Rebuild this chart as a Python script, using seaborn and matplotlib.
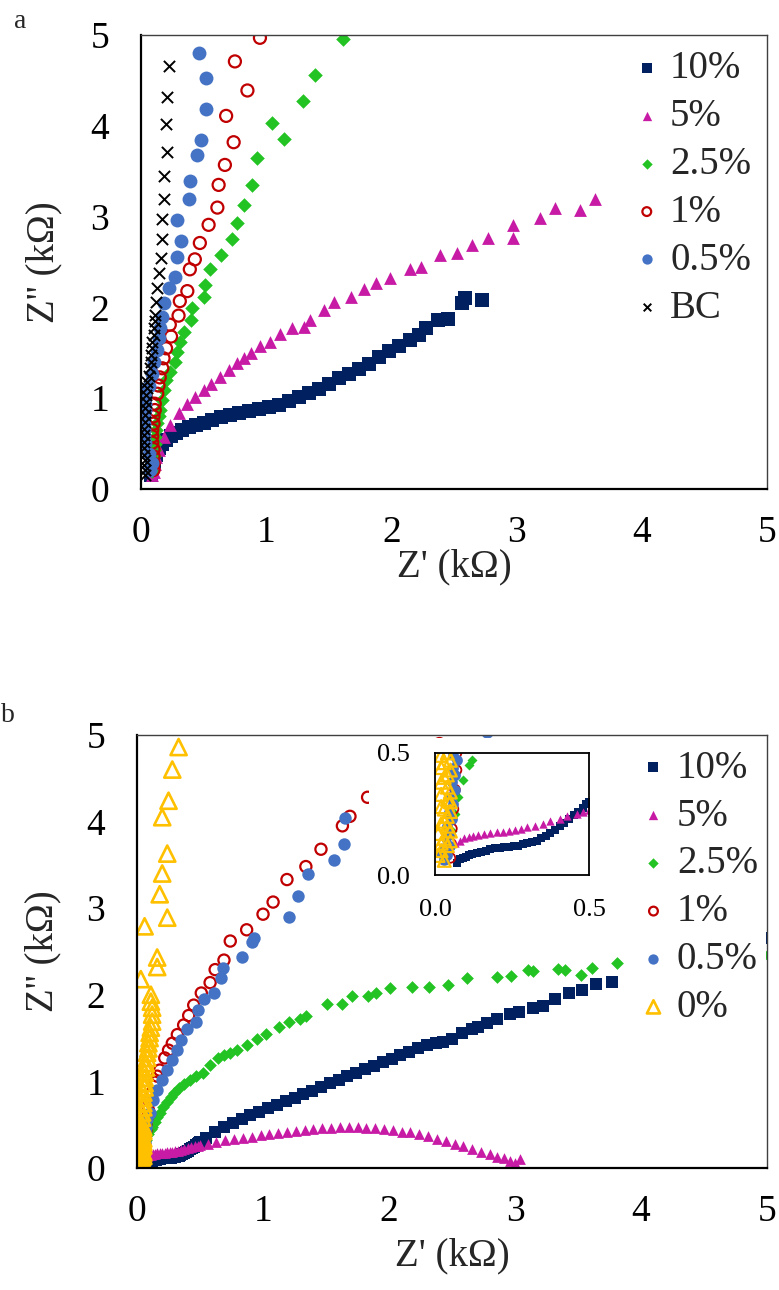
import matplotlib
matplotlib.use('Agg')
import matplotlib.pyplot as plt
import matplotlib.ticker as mticker
from matplotlib.patches import Rectangle
import seaborn as sns

# ---------------- data, panel a (Z' , Z'' in kOhm) ----------------
a_labels = ['10%', '5%', '2.5%', '1%', '0.5%', 'BC']

a_10 = [(0.08, 0.15), (0.09, 0.22), (0.10, 0.30), (0.12, 0.38), (0.14, 0.45), (0.17, 0.50),
        (0.20, 0.54), (0.24, 0.58), (0.28, 0.62), (0.33, 0.65), (0.38, 0.68), (0.44, 0.71),
        (0.50, 0.73), (0.57, 0.76), (0.64, 0.79), (0.71, 0.82), (0.78, 0.84), (0.86, 0.86),
        (0.94, 0.88), (1.02, 0.90), (1.10, 0.93), (1.18, 0.97), (1.26, 1.01), (1.34, 1.06),
        (1.42, 1.10), (1.50, 1.16), (1.58, 1.22), (1.66, 1.27), (1.74, 1.32), (1.82, 1.38),
        (1.90, 1.45), (1.98, 1.52), (2.06, 1.58), (2.15, 1.64), (2.22, 1.70), (2.28, 1.77),
        (2.37, 1.86), (2.45, 1.87), (2.56, 2.05), (2.59, 2.10), (2.72, 2.08)]

a_5 = [(0.09, 0.15), (0.10, 0.19), (0.11, 0.28), (0.12, 0.35), (0.14, 0.43), (0.18, 0.57),
       (0.23, 0.71), (0.30, 0.84), (0.37, 0.94), (0.43, 1.01), (0.50, 1.09), (0.56, 1.16),
       (0.63, 1.23), (0.70, 1.31), (0.77, 1.39), (0.82, 1.44), (0.88, 1.50), (0.95, 1.57),
       (1.03, 1.62), (1.11, 1.71), (1.21, 1.77), (1.30, 1.78), (1.35, 1.86), (1.46, 1.97),
       (1.54, 2.06), (1.68, 2.12), (1.78, 2.20), (1.88, 2.27), (1.99, 2.32), (2.15, 2.42),
       (2.24, 2.45), (2.39, 2.58), (2.52, 2.60), (2.64, 2.69), (2.77, 2.76), (2.97, 2.91),
       (2.97, 2.76), (3.19, 2.98), (3.31, 3.09), (3.51, 3.07), (3.63, 3.19)]

a_25 = [(0.09, 0.20), (0.09, 0.29), (0.10, 0.36), (0.10, 0.43), (0.11, 0.50), (0.11, 0.57),
        (0.12, 0.65), (0.13, 0.73), (0.14, 0.80), (0.15, 0.87), (0.17, 0.98), (0.18, 1.09),
        (0.20, 1.20), (0.23, 1.29), (0.27, 1.40), (0.29, 1.51), (0.31, 1.62), (0.34, 1.73),
        (0.40, 1.86), (0.41, 1.99), (0.50, 2.12), (0.51, 2.25), (0.55, 2.42), (0.64, 2.58),
        (0.73, 2.75), (0.77, 2.93), (0.82, 3.13), (0.89, 3.35), (0.93, 3.65), (1.14, 3.85),
        (1.05, 4.03), (1.29, 4.27), (1.39, 4.56), (1.61, 4.96)]

a_1 = [(0.10, 0.21), (0.10, 0.28), (0.10, 0.36), (0.10, 0.44), (0.09, 0.51), (0.09, 0.58),
       (0.09, 0.65), (0.10, 0.72), (0.10, 0.80), (0.11, 0.87), (0.11, 0.94), (0.13, 1.05),
       (0.14, 1.14), (0.15, 1.23), (0.17, 1.33), (0.18, 1.44), (0.20, 1.55), (0.24, 1.68),
       (0.23, 1.81), (0.30, 1.91), (0.31, 2.07), (0.37, 2.18), (0.39, 2.42), (0.43, 2.53),
       (0.47, 2.71), (0.54, 2.91), (0.61, 3.10), (0.62, 3.35), (0.67, 3.57), (0.74, 3.82),
       (0.68, 4.11), (0.85, 4.39), (0.75, 4.71), (0.95, 4.97)]

a_05 = [(0.07, 0.21), (0.09, 0.29), (0.06, 0.39), (0.03, 0.51), (0.02, 0.58), (0.02, 0.65),
        (0.02, 0.72), (0.02, 0.80), (0.03, 0.87), (0.03, 0.94), (0.03, 1.02), (0.03, 1.09),
        (0.06, 1.14), (0.09, 1.27), (0.10, 1.40), (0.13, 1.53), (0.14, 1.66), (0.15, 1.77),
        (0.17, 1.90), (0.18, 2.05), (0.22, 2.21), (0.27, 2.33), (0.29, 2.56), (0.32, 2.73),
        (0.29, 2.96), (0.38, 3.20), (0.39, 3.39), (0.45, 3.68), (0.48, 3.84), (0.52, 4.19),
        (0.52, 4.53), (0.46, 4.80)]

a_bc = [(0.03, 0.15), (0.03, 0.21), (0.02, 0.26), (0.03, 0.32), (0.02, 0.38), (0.02, 0.45),
        (0.02, 0.52), (0.02, 0.59), (0.02, 0.66), (0.03, 0.74), (0.03, 0.81), (0.03, 0.89),
        (0.04, 0.96), (0.04, 1.04), (0.05, 1.11), (0.05, 1.18), (0.06, 1.25), (0.07, 1.33),
        (0.08, 1.40), (0.08, 1.48), (0.09, 1.55), (0.09, 1.62), (0.10, 1.70), (0.10, 1.77),
        (0.11, 1.85), (0.11, 1.92), (0.12, 2.06), (0.13, 2.21), (0.14, 2.38), (0.16, 2.54),
        (0.17, 2.75), (0.17, 2.97), (0.18, 3.20), (0.18, 3.45), (0.21, 3.71), (0.20, 4.02),
        (0.21, 4.32), (0.22, 4.66)]

# ---------------- data, panel b ----------------
b_labels = ['10%', '5%', '2.5%', '1%', '0.5%', '0%']

b_10 = [(0.07, 0.05), (0.08, 0.065), (0.09, 0.07), (0.10, 0.075), (0.11, 0.08), (0.12, 0.085),
        (0.135, 0.09), (0.15, 0.095), (0.165, 0.10), (0.18, 0.105), (0.195, 0.11), (0.21, 0.112),
        (0.225, 0.113), (0.24, 0.115), (0.255, 0.117), (0.27, 0.12), (0.285, 0.125), (0.30, 0.13),
        (0.315, 0.135), (0.33, 0.14), (0.345, 0.15), (0.36, 0.16), (0.375, 0.172), (0.39, 0.185),
        (0.405, 0.20), (0.42, 0.215), (0.435, 0.23), (0.45, 0.245), (0.465, 0.26), (0.48, 0.275),
        (0.49, 0.29), (0.50, 0.30), (0.55, 0.35), (0.62, 0.41), (0.69, 0.47), (0.76, 0.52),
        (0.83, 0.57), (0.90, 0.61), (0.97, 0.65), (1.04, 0.69), (1.11, 0.73), (1.18, 0.77),
        (1.25, 0.81), (1.32, 0.85), (1.39, 0.89), (1.46, 0.94), (1.53, 0.98), (1.60, 1.02),
        (1.67, 1.06), (1.74, 1.10), (1.81, 1.14), (1.88, 1.18), (1.95, 1.22), (2.02, 1.26),
        (2.09, 1.30), (2.16, 1.34), (2.23, 1.38), (2.30, 1.42), (2.37, 1.44), (2.43, 1.45),
        (2.50, 1.49), (2.58, 1.56), (2.66, 1.61), (2.71, 1.63), (2.78, 1.67), (2.86, 1.72),
        (2.96, 1.78), (3.03, 1.80), (3.14, 1.85), (3.22, 1.87), (3.32, 1.95), (3.43, 2.02),
        (3.53, 2.06), (3.64, 2.12), (3.77, 2.15), (4.10, 2.30), (4.35, 2.40), (4.60, 2.50),
        (4.80, 2.58), (4.98, 2.66)]

b_5 = [(0.03, 0.06), (0.04, 0.085), (0.05, 0.11), (0.065, 0.13), (0.08, 0.14), (0.095, 0.15),
       (0.11, 0.155), (0.125, 0.16), (0.14, 0.165), (0.16, 0.17), (0.18, 0.173), (0.20, 0.176),
       (0.22, 0.178), (0.24, 0.18), (0.26, 0.185), (0.28, 0.19), (0.30, 0.195), (0.325, 0.20),
       (0.35, 0.21), (0.375, 0.22), (0.405, 0.23), (0.43, 0.24), (0.46, 0.25), (0.48, 0.258),
       (0.50, 0.265), (0.56, 0.28), (0.63, 0.30), (0.70, 0.32), (0.77, 0.33), (0.84, 0.35),
       (0.91, 0.36), (0.98, 0.38), (1.05, 0.39), (1.12, 0.40), (1.19, 0.42), (1.26, 0.43),
       (1.33, 0.44), (1.40, 0.45), (1.47, 0.46), (1.54, 0.46), (1.61, 0.47), (1.68, 0.47),
       (1.75, 0.47), (1.82, 0.46), (1.89, 0.46), (1.96, 0.45), (2.03, 0.44), (2.10, 0.42),
       (2.17, 0.41), (2.24, 0.39), (2.31, 0.37), (2.38, 0.34), (2.45, 0.31), (2.52, 0.28),
       (2.59, 0.25), (2.66, 0.22), (2.73, 0.19), (2.80, 0.16), (2.86, 0.13), (2.91, 0.11),
       (2.96, 0.08), (3.00, 0.06), (3.04, 0.10)]

b_25 = [(0.03, 0.07), (0.045, 0.12), (0.055, 0.18), (0.065, 0.25), (0.075, 0.32), (0.09, 0.39),
        (0.11, 0.45), (0.12, 0.47), (0.14, 0.53), (0.16, 0.59), (0.18, 0.64), (0.21, 0.70),
        (0.24, 0.76), (0.27, 0.82), (0.29, 0.87), (0.33, 0.92), (0.37, 0.97), (0.42, 1.02),
        (0.47, 1.06), (0.52, 1.10), (0.58, 1.19), (0.64, 1.27), (0.69, 1.30), (0.74, 1.33),
        (0.79, 1.36), (0.87, 1.42), (0.95, 1.49), (1.02, 1.55), (1.13, 1.63), (1.21, 1.69),
        (1.29, 1.72), (1.34, 1.75), (1.51, 1.89), (1.63, 1.89), (1.71, 1.98), (1.83, 1.98),
        (1.90, 2.02), (2.01, 2.08), (2.18, 2.09), (2.32, 2.09), (2.47, 2.11), (2.62, 2.19),
        (2.86, 2.21), (2.97, 2.22), (3.10, 2.29), (3.14, 2.27), (3.34, 2.30), (3.40, 2.28),
        (3.52, 2.23), (3.61, 2.31), (3.81, 2.37), (4.10, 2.39), (4.35, 2.41), (4.60, 2.43),
        (4.80, 2.45), (4.98, 2.46)]

b_1 = [(0.05, 0.07), (0.05, 0.13), (0.055, 0.19), (0.06, 0.27), (0.065, 0.35), (0.07, 0.43),
       (0.07, 0.50), (0.08, 0.58), (0.09, 0.67), (0.10, 0.77), (0.12, 0.87), (0.14, 0.99),
       (0.16, 1.06), (0.18, 1.13), (0.22, 1.27), (0.25, 1.36), (0.28, 1.44), (0.32, 1.54),
       (0.37, 1.65), (0.41, 1.76), (0.45, 1.88), (0.51, 2.02), (0.58, 2.14), (0.62, 2.29),
       (0.69, 2.40), (0.74, 2.62), (0.87, 2.75), (1.00, 2.93), (1.08, 3.07), (1.19, 3.33),
       (1.34, 3.48), (1.46, 3.68), (1.63, 3.95), (1.69, 4.06), (1.83, 4.28), (2.00, 4.45),
       (2.20, 4.70), (2.40, 4.90)]

b_05 = [(0.03, 0.06), (0.04, 0.08), (0.02, 0.09), (0.03, 0.11), (0.05, 0.12), (0.035, 0.15),
        (0.05, 0.17), (0.04, 0.20), (0.055, 0.23), (0.045, 0.26), (0.06, 0.29), (0.05, 0.32),
        (0.065, 0.35), (0.055, 0.38), (0.065, 0.41), (0.06, 0.44), (0.07, 0.47), (0.06, 0.49),
        (0.08, 0.56), (0.10, 0.63), (0.13, 0.79), (0.16, 0.90), (0.20, 1.02), (0.24, 1.13),
        (0.28, 1.25), (0.32, 1.36), (0.35, 1.48), (0.40, 1.60), (0.47, 1.68), (0.48, 1.82),
        (0.53, 1.95), (0.61, 2.02), (0.67, 2.19), (0.68, 2.31), (0.83, 2.44), (0.91, 2.61),
        (0.93, 2.66), (1.21, 2.90), (1.28, 3.14), (1.36, 3.39), (1.56, 3.55), (1.64, 3.74),
        (1.65, 4.04), (1.90, 4.25), (2.15, 4.50), (2.45, 4.75), (2.78, 5.03)]

b_0 = [(0.03, 0.06), (0.01, 0.08), (0.02, 0.10), (0.04, 0.12), (0.02, 0.13), (0.05, 0.14),
       (0.03, 0.15), (0.01, 0.17), (0.05, 0.18), (0.04, 0.20), (0.02, 0.21), (0.03, 0.22),
       (0.04, 0.24), (0.05, 0.26), (0.03, 0.27), (0.02, 0.28), (0.05, 0.30), (0.04, 0.31),
       (0.02, 0.33), (0.05, 0.34), (0.04, 0.36), (0.02, 0.38), (0.03, 0.40), (0.04, 0.41),
       (0.05, 0.43), (0.02, 0.44), (0.03, 0.46), (0.05, 0.47), (0.02, 0.49), (0.04, 0.50),
       (0.04, 0.58), (0.04, 0.64), (0.05, 0.70), (0.05, 0.75), (0.05, 0.81), (0.05, 0.87),
       (0.06, 0.93), (0.06, 0.98), (0.06, 1.04), (0.06, 1.10), (0.07, 1.16), (0.07, 1.21),
       (0.08, 1.27), (0.08, 1.33), (0.09, 1.38), (0.09, 1.44), (0.10, 1.50), (0.10, 1.56),
       (0.11, 1.62), (0.12, 1.69), (0.12, 1.77), (0.12, 1.85), (0.11, 1.92), (0.11, 2.00),
       (0.03, 2.18), (0.16, 2.32), (0.16, 2.43), (0.06, 2.79), (0.24, 2.89), (0.18, 3.16),
       (0.20, 3.40), (0.24, 3.63), (0.20, 4.05), (0.25, 4.24), (0.28, 4.60), (0.33, 4.86)]

axis_ticks = [0, 1, 2, 3, 4, 5]
inset_ticks = [0.0, 0.5]

# marker, colour, hollow
styles = {
    '10%': ('s', '#002060', False),
    '5%': ('^', '#C71BA6', False),
    '2.5%': ('D', '#22C322', False),
    '1%': ('o', '#C00000', True),
    '0.5%': ('o', '#4472C4', False),
    'BC': ('x', 'black', False),
    '0%': ('^', '#FFC000', True),
}

sns.set_style('white')
plt.rcParams['font.family'] = ['Liberation Serif', 'DejaVu Serif']


def pts(ax, data, key, s, lw=1.4, label=None):
    marker, color, hollow = styles[key]
    x = [p[0] for p in data]
    y = [p[1] for p in data]
    kw = dict(x=x, y=y, ax=ax, marker=marker, s=s, legend=False, label=label)
    if hollow:
        sns.scatterplot(**kw, facecolor='none', edgecolor=color, linewidth=lw)
    elif marker == 'x':
        sns.scatterplot(**kw, color=color, linewidth=lw)
    else:
        sns.scatterplot(**kw, color=color, linewidth=0)


def frame(ax):
    for side in ['left', 'bottom']:
        ax.spines[side].set_color('black')
        ax.spines[side].set_linewidth(1.6)
    for side in ['top', 'right']:
        ax.spines[side].set_color('#404040')
        ax.spines[side].set_linewidth(1.0)
    ax.set_xlim(0, 5)
    ax.set_ylim(0, 5)
    ax.set_xticks(axis_ticks)
    ax.set_yticks(axis_ticks)
    ax.tick_params(axis='both', direction='out', length=7, width=1.3,
                   labelsize=27, colors='black')
    ax.tick_params(axis='x', pad=12)
    ax.tick_params(axis='y', pad=16)


def legend(ax, anchor, sizes):
    leg = ax.legend(loc='upper left', bbox_to_anchor=anchor, borderaxespad=0,
                    frameon=True, facecolor='white', edgecolor='none', framealpha=1,
                    fancybox=False, fontsize=28, handlelength=0.5, handletextpad=0.35,
                    labelspacing=0.28, borderpad=0.2)
    for h, t in zip(leg.legend_handles, leg.get_texts()):
        h.set_sizes([sizes[t.get_text()]])
    return leg


fig = plt.figure(figsize=(7.79, 12.9), dpi=100)

# ---------------- panel a ----------------
ax_a = fig.add_axes([0.1810, 0.6209, 0.8036, 0.3519])
pts(ax_a, a_10, '10%', 100, label='10%')
pts(ax_a, a_5, '5%', 85, label='5%')
pts(ax_a, a_25, '2.5%', 55, label='2.5%')
pts(ax_a, a_1, '1%', 75, lw=1.6, label='1%')
pts(ax_a, a_05, '0.5%', 100, label='0.5%')
pts(ax_a, a_bc, 'BC', 65, lw=1.4, label='BC')
frame(ax_a)
ax_a.set_xlabel("Z' (kΩ)", fontsize=28)
ax_a.set_ylabel("Z'' (kΩ)", fontsize=28)
ax_a.xaxis.set_label_coords(0.5, -0.13)
ax_a.yaxis.set_label_coords(-0.125, 0.5)
legend(ax_a, (0.78, 0.984),
       {'10%': 50, '5%': 45, '2.5%': 28, '1%': 40, '0.5%': 55, 'BC': 30})

# ---------------- panel b ----------------
ax_b = fig.add_axes([0.1759, 0.0946, 0.8087, 0.3357])
pts(ax_b, b_10, '10%', 70, label='10%')
pts(ax_b, b_5, '5%', 60, label='5%')
pts(ax_b, b_25, '2.5%', 42, label='2.5%')
pts(ax_b, b_1, '1%', 65, lw=1.6, label='1%')
pts(ax_b, b_05, '0.5%', 80, label='0.5%')
pts(ax_b, b_0, '0%', 135, lw=1.9, label='0%')
frame(ax_b)
ax_b.set_xlabel("Z' (kΩ)", fontsize=28)
ax_b.set_ylabel("Z'' (kΩ)", fontsize=28)
ax_b.xaxis.set_label_coords(0.5, -0.16)
ax_b.yaxis.set_label_coords(-0.12, 0.5)
legend(ax_b, (0.792, 0.984),
       {'10%': 50, '5%': 45, '2.5%': 28, '1%': 40, '0.5%': 55, '0%': 90})

# white chart area of the inset (hides the main points behind it)
fig.add_artist(Rectangle((369 / 779, 1 - 930 / 1290), 231 / 779, 192 / 1290,
                         transform=fig.transFigure, facecolor='white',
                         edgecolor='none', zorder=1))

# ---------------- inset ----------------
ax_in = fig.add_axes([0.5584, 0.3217, 0.1977, 0.0946], zorder=2)
pts(ax_in, b_10, '10%', 30)
pts(ax_in, b_5, '5%', 36)
pts(ax_in, b_25, '2.5%', 26)
pts(ax_in, b_1, '1%', 48, lw=1.3)
pts(ax_in, b_05, '0.5%', 60)
pts(ax_in, b_0, '0%', 85, lw=1.6)
ax_in.set_facecolor('white')
ax_in.set_xlim(0, 0.5)
ax_in.set_ylim(0, 0.5)
ax_in.set_xticks(inset_ticks)
ax_in.set_yticks(inset_ticks)
ax_in.xaxis.set_minor_locator(mticker.MultipleLocator(0.1))
ax_in.yaxis.set_minor_locator(mticker.MultipleLocator(0.1))
ax_in.xaxis.set_major_formatter(mticker.FormatStrFormatter('%.1f'))
ax_in.yaxis.set_major_formatter(mticker.FormatStrFormatter('%.1f'))
ax_in.tick_params(which='both', direction='out', length=5, width=1.2,
                  labelsize=19, colors='black')
ax_in.tick_params(axis='x', which='both', pad=12)
ax_in.tick_params(axis='y', which='both', pad=13)
for side in ax_in.spines:
    ax_in.spines[side].set_color('black')
    ax_in.spines[side].set_linewidth(1.3)

fig.text(20 / 779, 1 - 22 / 1290, 'a', fontsize=20, ha='center', va='center')
fig.text(8 / 779, 1 - 716 / 1290, 'b', fontsize=20, ha='center', va='center')

fig.savefig('out.png', dpi=100)
